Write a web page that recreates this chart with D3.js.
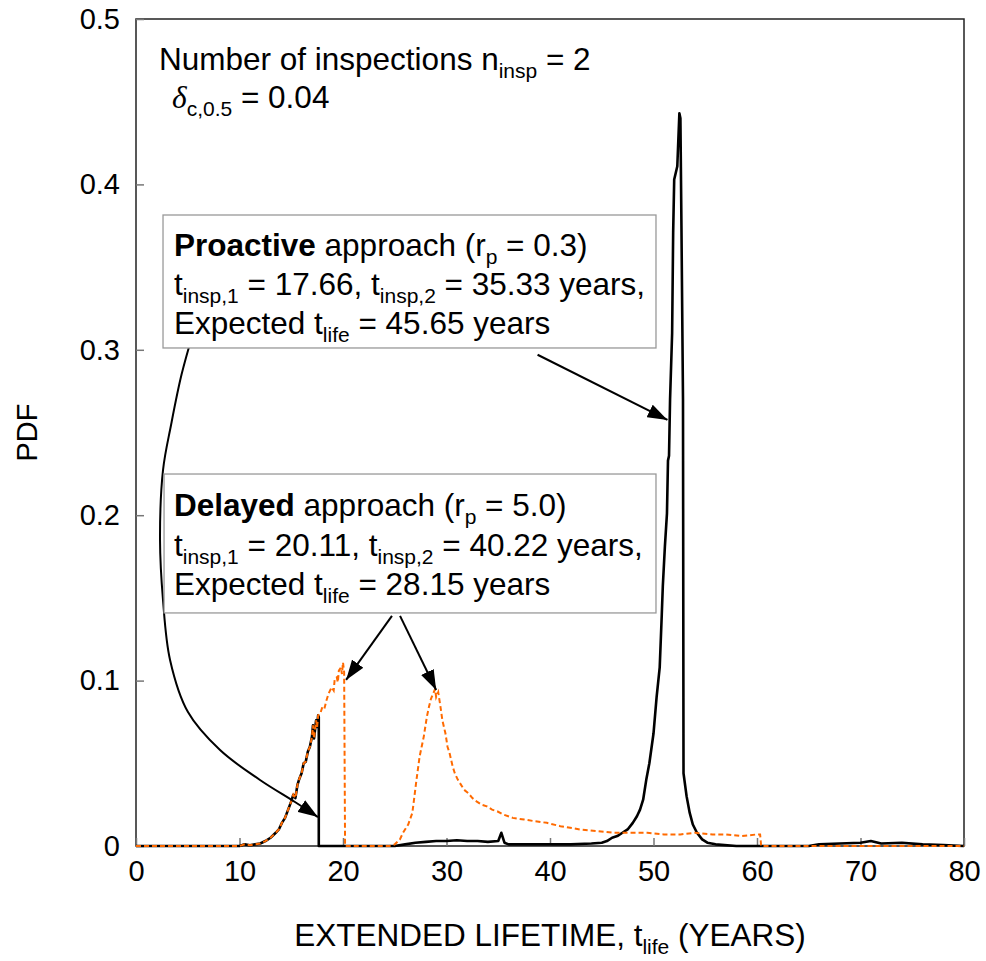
<!DOCTYPE html>
<html>
<head>
<meta charset="utf-8">
<script src="https://cdn.jsdelivr.net/npm/d3@7"></script>
<style>
  html, body { margin: 0; padding: 0; background: #fff; }
  svg { display: block; font-family: "Liberation Sans", Arial, sans-serif; }
</style>
</head>
<body>
<svg id="chart" width="986" height="961"></svg>
<script>
// ---------- data ----------
const xTicks = [0, 10, 20, 30, 40, 50, 60, 70, 80];
const yTicks = [0, 0.1, 0.2, 0.3, 0.4, 0.5];
const yTickLabels = ["0", "0.1", "0.2", "0.3", "0.4", "0.5"];

// Proactive approach (black solid) : extended lifetime (years) / PDF
const proactiveT = [0, 10, 10.5, 11, 11.5, 12, 12.5, 13, 13.5, 13.8, 14.1, 14.4, 14.7, 15, 15.2, 15.4, 15.6, 15.8, 16, 16.2, 16.4, 16.6, 16.8, 17.0, 17.1, 17.2, 17.4, 17.5, 17.6, 17.66, 17.66,
  25, 26, 27, 28, 29, 30, 31, 32, 33, 34, 35, 35.3, 35.6, 36, 38, 40, 42, 44, 45, 45.5, 46, 46.5, 47, 47.5, 48, 48.4, 48.7, 49, 49.3, 49.6, 50, 50.3, 50.6, 50.8, 50.9, 51.1, 51.3, 51.4, 51.5, 51.6, 51.8, 51.9, 52.0, 52.3, 52.5, 52.6, 52.7, 52.85, 52.9, 53.2, 53.5, 53.8, 54.2, 54.7, 55.2, 56, 58,
  65, 66, 68, 70, 71, 72, 74, 76, 78, 80];
const proactiveV = [0, 0, 0.001, 0.0005, 0.001, 0.0015, 0.003, 0.005, 0.008, 0.010, 0.014, 0.017, 0.022, 0.027, 0.031, 0.029, 0.037, 0.041, 0.044, 0.050, 0.051, 0.057, 0.060, 0.066, 0.073, 0.065, 0.076, 0.072, 0.079, 0.078, 0,
  0, 0.001, 0.002, 0.0025, 0.003, 0.003, 0.0035, 0.003, 0.003, 0.0025, 0.003, 0.008, 0.002, 0.001, 0.001, 0.001, 0.001, 0.0015, 0.002, 0.003, 0.005, 0.006, 0.008, 0.010, 0.014, 0.018, 0.022, 0.028, 0.040, 0.050, 0.068, 0.090, 0.108, 0.140, 0.157, 0.181, 0.201, 0.233, 0.236, 0.270, 0.310, 0.371, 0.403, 0.411, 0.443, 0.440, 0.375, 0.270, 0.044, 0.030, 0.020, 0.013, 0.008, 0.004, 0.002, 0.001, 0,
  0, 0.001, 0.0015, 0.002, 0.003, 0.0015, 0.002, 0.001, 0.0005, 0];

// Delayed approach (orange dashed)
const delayedT = [0, 10, 10.5, 11, 11.5, 12, 12.5, 13, 13.5, 13.8, 14.1, 14.4, 14.7, 15, 15.2, 15.4, 15.6, 15.8, 16, 16.2, 16.4, 16.6, 16.8, 17.0, 17.1, 17.2, 17.4, 17.5, 17.6, 17.8, 18.0, 18.2, 18.4, 18.6, 18.9, 19.1, 19.2, 19.4, 19.5, 19.6, 19.8, 19.9, 20.0, 20.11, 20.2,
  24.5, 25, 25.5, 25.8, 26.3, 26.7, 26.9, 27.1, 27.4, 27.6, 27.8, 28.1, 28.3, 28.5, 28.7, 28.9, 29.0, 29.2, 29.4, 29.6, 29.9, 30.1, 30.3, 30.6, 30.8, 31.1, 31.3, 31.7, 32.1, 32.5, 32.9, 33.4, 33.9, 34.4, 34.9, 35.5, 36.4, 37.5, 38.5, 39.7, 41, 42.9, 44.5, 46.1, 48, 49.4, 51, 52.6, 54, 55.7, 57, 58.5, 60, 60.3, 60.4, 80];
const delayedV = [0, 0, 0.001, 0.0005, 0.001, 0.0015, 0.003, 0.005, 0.008, 0.010, 0.014, 0.017, 0.022, 0.027, 0.031, 0.029, 0.037, 0.041, 0.044, 0.050, 0.051, 0.057, 0.060, 0.066, 0.073, 0.065, 0.076, 0.072, 0.079, 0.080, 0.084, 0.083, 0.088, 0.092, 0.096, 0.094, 0.101, 0.102, 0.099, 0.106, 0.108, 0.104, 0.111, 0.105, 0,
  0, 0.001, 0.004, 0.008, 0.013, 0.020, 0.030, 0.040, 0.054, 0.060, 0.066, 0.078, 0.084, 0.089, 0.092, 0.095, 0.090, 0.093, 0.085, 0.076, 0.068, 0.060, 0.056, 0.048, 0.044, 0.040, 0.038, 0.034, 0.032, 0.029, 0.027, 0.025, 0.024, 0.022, 0.021, 0.019, 0.017, 0.016, 0.015, 0.014, 0.012, 0.010, 0.009, 0.008, 0.008, 0.008, 0.007, 0.007, 0.008, 0.007, 0.007, 0.006, 0.007, 0.007, 0, 0];

// ---------- layout ----------
const svg = d3.select("#chart");
const x = d3.scaleLinear().domain([0, 80]).range([136, 964]);
const y = d3.scaleLinear().domain([0, 0.5]).range([846, 19]);
const FS = 29;     // tick labels
const FA = 31.5;   // annotation text
const FSUB = 21;   // subscripts

// frame
svg.append("rect").attr("x", x(0)).attr("y", y(0.5))
  .attr("width", x(80) - x(0)).attr("height", y(0) - y(0.5))
  .attr("fill", "none").attr("stroke", "#222").attr("stroke-width", 1.5);

// ticks (inside)
const gx = svg.append("g").attr("transform", `translate(0,${y(0)})`)
  .call(d3.axisBottom(x).tickValues(xTicks).tickSize(-8).tickPadding(14).tickFormat(d3.format("d")));
gx.select(".domain").remove();
gx.selectAll(".tick line").attr("stroke", "#777").attr("stroke-width", 1.5);
gx.selectAll(".tick text").attr("font-size", FS).attr("fill", "#000")
  .attr("font-family", "Liberation Sans, Arial, sans-serif");

const gy = svg.append("g").attr("transform", `translate(${x(0)},0)`)
  .call(d3.axisLeft(y).tickValues(yTicks).tickSize(-8).tickPadding(16).tickFormat((d, i) => yTickLabels[i]));
gy.select(".domain").remove();
gy.selectAll(".tick line").attr("stroke", "#777").attr("stroke-width", 1.5);
gy.selectAll(".tick text").attr("font-size", FS).attr("fill", "#000")
  .attr("font-family", "Liberation Sans, Arial, sans-serif");

// axis labels
const xl = svg.append("text").attr("x", 550).attr("y", 946)
  .attr("text-anchor", "middle").attr("font-size", FA);
xl.append("tspan").text("EXTENDED LIFETIME, t");
xl.append("tspan").attr("font-size", FSUB).attr("dy", 8).text("life");
xl.append("tspan").attr("dy", -8).text(" (YEARS)");

svg.append("text").attr("transform", `translate(37,${(y(0) + y(0.5)) / 2}) rotate(-90)`)
  .attr("text-anchor", "middle").attr("font-size", FS).text("PDF");

// series
const line = (T, V) => d3.line().x((d, i) => x(T[i])).y((d, i) => y(V[i]))(T);
const plot = svg.append("g");
plot.append("path").attr("d", line(proactiveT, proactiveV))
  .attr("fill", "none").attr("stroke", "#000").attr("stroke-width", 2.6).attr("stroke-linejoin", "round");
plot.append("path").attr("d", line(delayedT, delayedV))
  .attr("fill", "none").attr("stroke", "#ff6a00").attr("stroke-width", 2)
  .attr("stroke-dasharray", "5,3");

// ---------- annotations ----------
const defs = svg.append("defs");
defs.append("marker").attr("id", "ah").attr("viewBox", "0 0 20 14")
  .attr("refX", 20).attr("refY", 7).attr("markerWidth", 20).attr("markerHeight", 14)
  .attr("markerUnits", "userSpaceOnUse").attr("orient", "auto")
  .append("path").attr("d", "M0,0 L20,7 L0,14 Z").attr("fill", "#000");

const ann = svg.append("g");
// curved arrow (proactive box -> first drop)
const curvePts = [[5.6, 0.312], [4.4, 0.285], [3.4, 0.255], [2.61, 0.2273], [2.32, 0.185], [2.61, 0.1487], [3.29, 0.1125], [5.02, 0.081], [8.12, 0.058], [11.98, 0.0399], [15.36, 0.0266], [17.58, 0.0175]];
ann.append("path")
  .attr("d", d3.line().x(d => x(d[0])).y(d => y(d[1])).curve(d3.curveCatmullRom)(curvePts))
  .attr("fill", "none").attr("stroke", "#000").attr("stroke-width", 2).attr("marker-end", "url(#ah)");

const straightArrows = [
  [[38.8, 0.297], [51.35, 0.2576]],
  [[24.73, 0.1391], [20.3, 0.1004]],
  [[25.51, 0.1391], [29.0, 0.0943]]
];
straightArrows.forEach(a => {
  ann.append("line").attr("x1", x(a[0][0])).attr("y1", y(a[0][1]))
    .attr("x2", x(a[1][0])).attr("y2", y(a[1][1]))
    .attr("stroke", "#000").attr("stroke-width", 2).attr("marker-end", "url(#ah)");
});

// boxes
function box(x0, x1, y0, y1) {
  ann.append("rect").attr("x", x(x0)).attr("y", y(y0))
    .attr("width", x(x1) - x(x0)).attr("height", y(y1) - y(y0))
    .attr("fill", "#fff").attr("stroke", "#999").attr("stroke-width", 1.3);
}
box(2.61, 50.24, 0.3815, 0.3011);
box(2.71, 50.24, 0.2249, 0.1409);

function richLine(px, py, parts) {
  const t = ann.append("text").attr("x", px).attr("y", py).attr("font-size", FA);
  let shift = 0;
  parts.forEach(p => {
    const s = t.append("tspan").text(p.t);
    if (p.b) s.attr("font-weight", "bold");
    const target = p.sub ? 8 : 0;
    if (target !== shift) { s.attr("dy", target - shift); shift = target; }
    if (p.sub) s.attr("font-size", FSUB);
    if (p.it) s.attr("font-style", "italic").attr("font-family", "Liberation Serif, serif");
  });
  return t;
}

const bx = x(2.61) + 11;
const p0 = y(0.3815);
richLine(bx, p0 + 41, [{t: "Proactive", b: true}, {t: " approach (r"}, {t: "p", sub: true}, {t: " = 0.3)"}]);
richLine(bx, p0 + 80, [{t: "t"}, {t: "insp,1", sub: true}, {t: " = 17.66, t"}, {t: "insp,2", sub: true}, {t: " = 35.33 years,"}]);
richLine(bx, p0 + 119, [{t: "Expected t"}, {t: "life", sub: true}, {t: " = 45.65 years"}]);

const d0 = y(0.2249);
richLine(bx, d0 + 42, [{t: "Delayed", b: true}, {t: " approach (r"}, {t: "p", sub: true}, {t: " = 5.0)"}]);
richLine(bx, d0 + 82, [{t: "t"}, {t: "insp,1", sub: true}, {t: " = 20.11, t"}, {t: "insp,2", sub: true}, {t: " = 40.22 years,"}]);
richLine(bx, d0 + 121, [{t: "Expected t"}, {t: "life", sub: true}, {t: " = 28.15 years"}]);

richLine(159, 70, [{t: "Number of inspections n"}, {t: "insp", sub: true}, {t: " = 2"}]);
richLine(172, 108, [{t: "δ", it: true}, {t: "c,0.5", sub: true}, {t: " = 0.04"}]);
</script>
</body>
</html>
